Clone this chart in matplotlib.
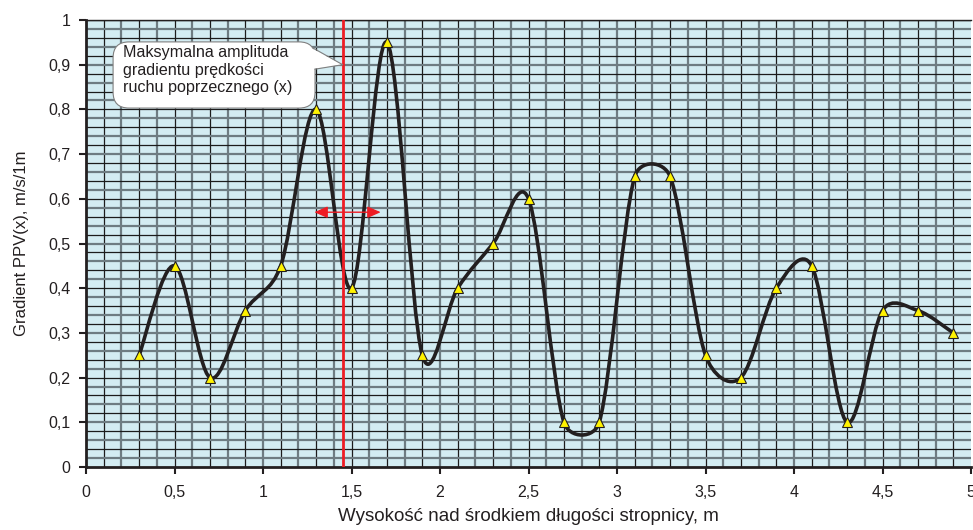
import numpy as np
import matplotlib
matplotlib.use("Agg")
import matplotlib.pyplot as plt
from matplotlib.path import Path
from matplotlib.patches import PathPatch, FancyBboxPatch, Polygon
from matplotlib.ticker import FuncFormatter

plt.rcParams['font.family'] = ['Liberation Sans', 'DejaVu Sans']

# measured gradient values along the beam
heights = [0.3, 0.5, 0.7, 0.9, 1.1, 1.3, 1.5, 1.7, 1.9, 2.1, 2.3, 2.5,
           2.7, 2.9, 3.1, 3.3, 3.5, 3.7, 3.9, 4.1, 4.3, 4.5, 4.7, 4.9]
gradient = [0.25, 0.45, 0.20, 0.35, 0.45, 0.80, 0.40, 0.95, 0.25, 0.40, 0.50, 0.60,
            0.10, 0.10, 0.65, 0.65, 0.25, 0.20, 0.40, 0.45, 0.10, 0.35, 0.35, 0.30]
max_position = 1.45
x_ticks = [0, 0.5, 1, 1.5, 2, 2.5, 3, 3.5, 4, 4.5, 5]
y_ticks = [0, 0.1, 0.2, 0.3, 0.4, 0.5, 0.6, 0.7, 0.8, 0.9, 1.0]
callout_text = "Maksymalna amplituda\ngradientu prędkości\nruchu poprzecznego (x)"

fig = plt.figure(figsize=(9.73, 5.30), dpi=100)
ax = fig.add_axes([86/973, 1-467/530, (971-86)/973, (467-20)/530])
ax.set_xlim(0, 5)
ax.set_ylim(0, 1)
ax.set_facecolor('#d3ecf2')

# dense background grid, alternating dark and grey lines
for i, gx in enumerate(np.arange(0.1, 5.0, 0.1)):
    if i % 2 == 0:
        ax.axvline(gx, color='#1c1c1c', lw=0.9, zorder=1)
    else:
        ax.axvline(gx, color='#6e7c82', lw=1.6, zorder=1)
for i, gy in enumerate(np.arange(0.02, 1.0, 0.02)):
    if i % 2 == 0:
        ax.axhline(gy, color='#6e7c82', lw=1.6, zorder=1)
    else:
        ax.axhline(gy, color='#1c1c1c', lw=0.9, zorder=1)
ax.axhline(1.0, color='#1c1c1c', lw=1.0, zorder=1)

# smoothed curve through the measured points: cubic Bezier segments with
# Catmull-Rom tangents, arm length limited to half the segment length
# (measured in screen units so the limit is aspect independent)
sx = ax.bbox.width / 5.0
sy = ax.bbox.height / 1.0
scale = np.array([sx, sy])
P = np.column_stack([heights, gradient]) * scale
Pe = np.vstack([P[0], P, P[-1]])


def arm(vec, seg_len):
    a = vec / 6.0
    n = np.hypot(*a)
    lim = seg_len / 2.0
    if n > lim and n > 0:
        a = a * lim / n
    return a


verts = [tuple(P[0] / scale)]
codes = [Path.MOVETO]
for i in range(len(P) - 1):
    p0, p1, p2, p3 = Pe[i], Pe[i+1], Pe[i+2], Pe[i+3]
    seg = np.hypot(*(p2 - p1))
    b1 = p1 + arm(p2 - p0, seg)
    b2 = p2 - arm(p3 - p1, seg)
    verts += [tuple(b1 / scale), tuple(b2 / scale), tuple(p2 / scale)]
    codes += [Path.CURVE4] * 3
ax.add_patch(PathPatch(Path(verts, codes), fc='none', ec='#231f20', lw=2.6,
                       zorder=4, capstyle='round', joinstyle='round'))
ax.plot(heights, gradient, ls='none', marker='^', ms=6.5, mfc='#fff200',
        mec='#231f20', mew=0.8, zorder=5)

# position of maximum amplitude
ax.axvline(max_position, color='#ee1c24', lw=2.0, zorder=6)
ax.annotate('', xy=(1.29, 0.57), xytext=(1.665, 0.57),
            arrowprops=dict(arrowstyle='<|-|>,head_length=0.8,head_width=0.35',
                            color='#ee1c24', lw=1.0, shrinkA=0, shrinkB=0),
            zorder=6)

# callout box with pointer
bx0, bx1 = 0.153, 1.294
by0, by1 = 0.803, 0.951
r = 0.09
box = FancyBboxPatch((bx0, by0), bx1 - bx0, by1 - by0,
                     boxstyle=f"round,pad=0,rounding_size={r}",
                     mutation_aspect=sx/sy, fc='white', ec='#7f7f7f',
                     lw=0.8, zorder=7)
ax.add_patch(box)
tip = (max_position, 0.90)
base_top = (bx1 - 0.01, 0.937)
base_bot = (bx1, 0.890)
ax.add_patch(Polygon([(bx1 - 0.02, base_top[1]), tip, (bx1 - 0.02, base_bot[1])],
                     closed=True, fc='white', ec='none', zorder=8))
ax.plot([base_top[0], tip[0], base_bot[0]], [base_top[1], tip[1], base_bot[1]],
        color='#7f7f7f', lw=0.8, zorder=9)
ax.text(0.209, 0.944, callout_text, ha='left', va='top', fontsize=11.6,
        color='#231f20', linespacing=1.22, zorder=10)

# axes styling
for side in ['left', 'bottom']:
    ax.spines[side].set_linewidth(2.0)
    ax.spines[side].set_color('#231f20')
ax.spines['top'].set_linewidth(1.0)
ax.spines['top'].set_color('#231f20')
ax.spines['right'].set_visible(False)

fmt = FuncFormatter(lambda v, pos: (f"{v:g}").replace('.', ','))
ax.set_xticks(x_ticks)
ax.set_yticks(y_ticks)
ax.xaxis.set_major_formatter(fmt)
ax.yaxis.set_major_formatter(fmt)
ax.tick_params(axis='both', direction='out', length=5, width=1.5,
               colors='#231f20', labelsize=11.5, pad=8)
ax.tick_params(axis='y', pad=6)

ax.set_xlabel("Wysokość nad środkiem długości stropnicy, m", fontsize=13.5,
              color='#231f20', labelpad=6)
ax.set_ylabel("Gradient PPV(x), m/s/1m", fontsize=12, color='#231f20',
              labelpad=14)

fig.savefig('out.png', dpi=100)
